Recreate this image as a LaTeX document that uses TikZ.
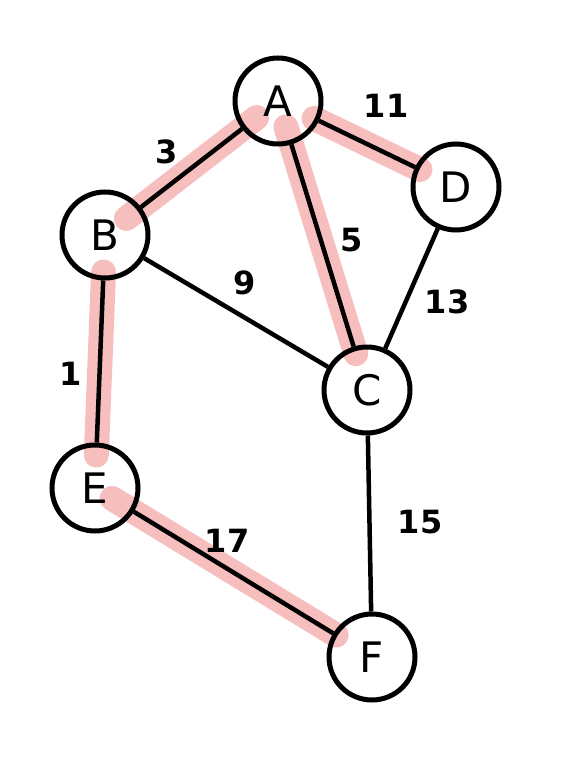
\documentclass[tikz,border=0pt]{standalone}
\usepackage{fontspec}
\setmainfont{DejaVu Sans}
\usetikzlibrary{calc,backgrounds}
\definecolor{hl}{RGB}{247,190,190}
\tikzset{
  vert/.style={circle,draw=black,line width=5pt,minimum size=86pt,inner sep=0pt,font=\fontsize{42}{42}\selectfont},
  edge/.style={draw=black,line width=4.5pt},
  hlline/.style={draw=hl,line width=25pt,line cap=round},
  wlabel/.style={font=\fontsize{32}{32}\selectfont\bfseries,inner sep=0pt}
}
\begin{document}
\begin{tikzpicture}[x=1pt,y=-1pt]
\useasboundingbox (0,0) rectangle (567,773);
\node[vert] (A) at (278,101) {A};
\node[vert] (D) at (456,187) {D};
\node[vert] (B) at (105,235) {B};
\node[vert] (C) at (367,390) {C};
\node[vert] (E) at (95,488) {E};
\node[vert] (F) at (372,657) {F};
\begin{scope}[on background layer]
  \draw[hlline] ($(A)!27pt!(B)$) -- ($(B)!27pt!(A)$);
  \draw[hlline] ($(A)!40pt!(D)$) -- ($(D)!40pt!(A)$);
  \draw[hlline] ($(A)!27pt!(C)$) -- ($(C)!38pt!(A)$);
  \draw[hlline] ($(B)!37pt!(E)$) -- ($(E)!33pt!(B)$);
  \draw[hlline] ($(E)!20pt!(F)$) -- ($(F)!42pt!(E)$);
\end{scope}
\draw[edge] (A) -- (B);
\draw[edge] (A) -- (D);
\draw[edge] (A) -- (C);
\draw[edge] (B) -- (C);
\draw[edge] (D) -- (C);
\draw[edge] (B) -- (E);
\draw[edge] (C) -- (F);
\draw[edge] (E) -- (F);
\node[wlabel] (l3) at (167,152) {3};
\node[wlabel] (l11) at (386,106) {11};
\node[wlabel] (l5) at (352,240) {5};
\node[wlabel] (l9) at (245,283) {9};
\node[wlabel] (l13) at (447,302) {13};
\node[wlabel] (l1) at (71,374) {1};
\node[wlabel] (l17) at (227,541) {17};
\node[wlabel] (l15) at (420,522) {15};
\end{tikzpicture}
\end{document}
